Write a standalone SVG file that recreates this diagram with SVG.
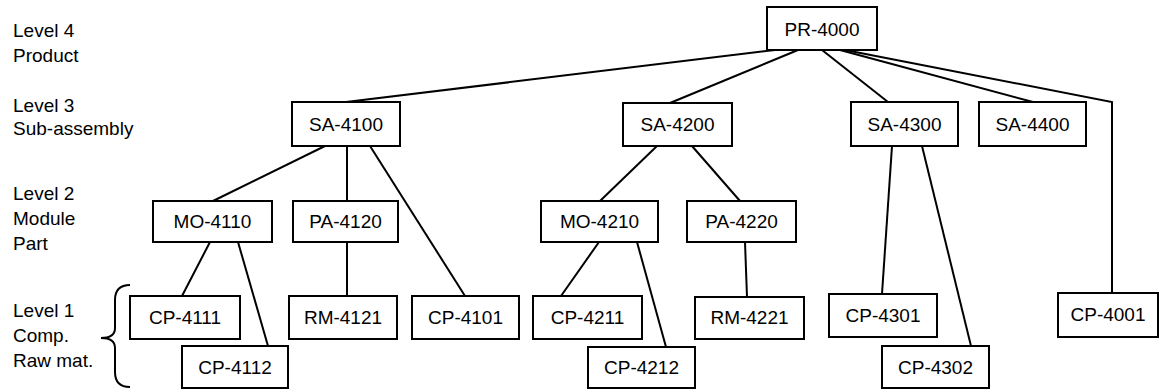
<svg xmlns="http://www.w3.org/2000/svg" width="1161" height="389" viewBox="0 0 1161 389">
<style>
.box rect{fill:#fff;stroke:#000;stroke-width:2}
text{font-family:"Liberation Sans",Arial,sans-serif;font-size:19px;fill:#000}
.box text{text-anchor:middle}
.conn line,.conn path{stroke:#000;stroke-width:2;fill:none}
</style>
<rect width="1161" height="389" fill="#fff"/>
<g id="labels">
<text x="13" y="37">Level 4</text>
<text x="13" y="62">Product</text>
<text x="13" y="112">Level 3</text>
<text x="13" y="135">Sub-assembly</text>
<text x="13" y="200">Level 2</text>
<text x="13" y="225">Module</text>
<text x="13" y="250">Part</text>
<text x="13" y="317">Level 1</text>
<text x="13" y="342">Comp.</text>
<text x="13" y="367">Raw mat.</text>
</g>
<g id="brace" class="conn">
<path d="M130,285 Q115,285 115,300 L115,328 Q115,338 101,338 Q115,338 115,348 L115,372 Q115,387 130,387"/>
</g>
<g id="connectors" class="conn">
<line x1="775" y1="50" x2="346" y2="102"/>
<line x1="798" y1="50" x2="670" y2="103"/>
<line x1="822" y1="50" x2="888" y2="102"/>
<line x1="840" y1="50" x2="1033" y2="102"/>
<path d="M845,50 L1112,102 L1112,293"/>
<line x1="325" y1="146" x2="213" y2="201"/>
<line x1="347" y1="146" x2="347" y2="201"/>
<line x1="370" y1="146" x2="465" y2="296"/>
<line x1="657" y1="146" x2="600" y2="201"/>
<line x1="692" y1="146" x2="740" y2="201"/>
<line x1="892" y1="146" x2="882" y2="294"/>
<line x1="922" y1="146" x2="971" y2="346"/>
<line x1="210" y1="242" x2="182" y2="296"/>
<line x1="238" y1="242" x2="268" y2="346"/>
<line x1="347" y1="242" x2="347" y2="296"/>
<line x1="599" y1="242" x2="561" y2="296"/>
<line x1="637" y1="242" x2="666" y2="347"/>
<line x1="745" y1="242" x2="747" y2="297"/>
</g>
<g id="PR-4000" class="box"><rect x="767" y="7" width="110" height="43"/><text x="822" y="36">PR-4000</text></g>
<g id="SA-4100" class="box"><rect x="292" y="102" width="108" height="44"/><text x="346" y="131">SA-4100</text></g>
<g id="SA-4200" class="box"><rect x="623" y="103" width="109" height="43"/><text x="677.5" y="131">SA-4200</text></g>
<g id="SA-4300" class="box"><rect x="851" y="102" width="107" height="44"/><text x="904.5" y="131">SA-4300</text></g>
<g id="SA-4400" class="box"><rect x="979" y="102" width="107" height="44"/><text x="1032.5" y="131">SA-4400</text></g>
<g id="MO-4110" class="box"><rect x="153" y="201" width="119" height="41"/><text x="212.5" y="228">MO-4110</text></g>
<g id="PA-4120" class="box"><rect x="293" y="201" width="105" height="41"/><text x="345.5" y="228">PA-4120</text></g>
<g id="MO-4210" class="box"><rect x="541" y="201" width="117" height="41"/><text x="599.5" y="228">MO-4210</text></g>
<g id="PA-4220" class="box"><rect x="687" y="201" width="109" height="41"/><text x="741.5" y="228">PA-4220</text></g>
<g id="CP-4111" class="box"><rect x="130" y="296" width="110" height="43"/><text x="185" y="324">CP-4111</text></g>
<g id="CP-4112" class="box"><rect x="182" y="346" width="106" height="42"/><text x="235" y="374">CP-4112</text></g>
<g id="RM-4121" class="box"><rect x="289" y="296" width="108" height="43"/><text x="343" y="324">RM-4121</text></g>
<g id="CP-4101" class="box"><rect x="412" y="296" width="107" height="43"/><text x="465.5" y="324">CP-4101</text></g>
<g id="CP-4211" class="box"><rect x="533" y="296" width="109" height="43"/><text x="587.5" y="324">CP-4211</text></g>
<g id="RM-4221" class="box"><rect x="695" y="297" width="109" height="42"/><text x="749.5" y="324">RM-4221</text></g>
<g id="CP-4212" class="box"><rect x="588" y="347" width="107" height="41"/><text x="641.5" y="374">CP-4212</text></g>
<g id="CP-4301" class="box"><rect x="829" y="294" width="108" height="43"/><text x="883" y="322">CP-4301</text></g>
<g id="CP-4302" class="box"><rect x="882" y="346" width="107" height="42"/><text x="935.5" y="374">CP-4302</text></g>
<g id="CP-4001" class="box"><rect x="1058" y="293" width="100" height="44"/><text x="1108" y="321">CP-4001</text></g>
</svg>
